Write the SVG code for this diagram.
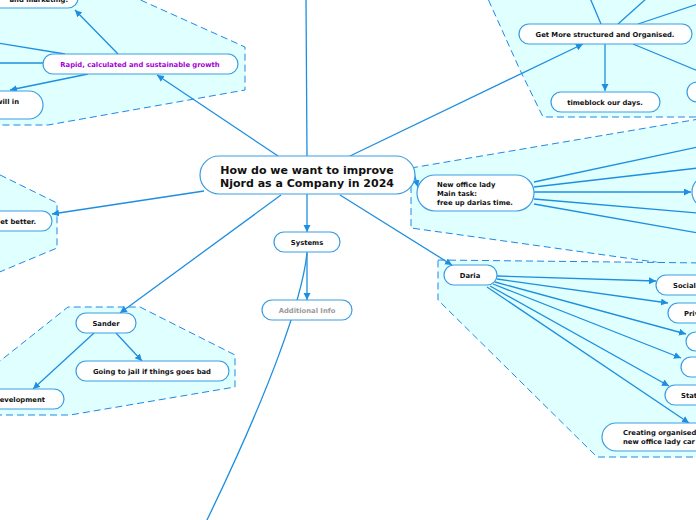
<svg xmlns="http://www.w3.org/2000/svg" width="696" height="520" viewBox="0 0 696 520">
<defs>
<style>
.grp{fill:#e0ffff;stroke:#1e88e5;stroke-width:1;stroke-dasharray:7,4}
.n{fill:#ffffff;stroke:#3a9de3;stroke-width:1.2}
.t{font-family:"DejaVu Sans",Verdana,sans-serif;font-weight:bold;font-size:6.8px;fill:#111}
.c{stroke:#1e8fe0;stroke-width:1.3;fill:none}
.a{marker-end:url(#ah)}
</style>
<marker id="ah" markerWidth="8" markerHeight="8" refX="7" refY="3.5" orient="auto" markerUnits="userSpaceOnUse">
<path d="M0,0 L7,3.5 L0,7 Z" fill="#1e8fe0"/>
</marker>
</defs>
<rect width="696" height="520" fill="#ffffff"/>

<g id="groups">
<polygon class="grp" points="-20,-20 96,-20 245,47 245,90 48,125 -20,125"/>
<path class="grp" d="M484,-10 L520,70 L543,117 L705,117 L705,-10 Z"/>
<polygon class="grp" points="411,168 705,118 705,269 411,228"/>
<polygon class="grp" points="438,260 705,263 705,457 597,457 438,300"/>
<polygon class="grp" points="-10,170 57,203 57,248 -10,276"/>
<polygon class="grp" points="-5,365 68,307 140,307 235,355 235,387 70,415 -5,415"/>
</g>

<g id="connectors">
<line class="c" x1="307" y1="156" x2="306" y2="-2"/>
<line class="c a" x1="278" y1="156" x2="157" y2="75"/>
<line class="c a" x1="118" y1="54" x2="75" y2="10"/>
<line class="c" x1="65" y1="54" x2="-2" y2="43"/>
<line class="c" x1="43" y1="63" x2="-2" y2="63"/>
<line class="c a" x1="88" y1="74" x2="10" y2="90"/>
<line class="c a" x1="350" y1="156" x2="583" y2="44"/>
<line class="c" x1="601" y1="24" x2="590" y2="-2"/>
<line class="c" x1="618" y1="24" x2="647" y2="-2"/>
<line class="c" x1="638" y1="24" x2="698" y2="4"/>
<line class="c" x1="633" y1="44" x2="698" y2="71"/>
<line class="c a" x1="605" y1="44" x2="605" y2="91"/>
<line class="c a" x1="413" y1="170" x2="418" y2="187"/>
<line class="c" x1="534" y1="182" x2="698" y2="147"/>
<line class="c" x1="534" y1="187" x2="698" y2="168"/>
<line class="c a" x1="534" y1="192" x2="691" y2="192"/>
<line class="c" x1="534" y1="199" x2="698" y2="213"/>
<line class="c" x1="534" y1="204" x2="698" y2="233"/>
<line class="c a" x1="340" y1="195" x2="452" y2="265"/>
<line class="c a" x1="497" y1="276" x2="656" y2="281"/>
<line class="c a" x1="497" y1="279" x2="668" y2="303"/>
<line class="c a" x1="495" y1="282" x2="686" y2="334"/>
<line class="c a" x1="493" y1="284" x2="681" y2="358"/>
<line class="c a" x1="490" y1="286" x2="669" y2="386"/>
<line class="c a" x1="487" y1="287" x2="689" y2="423"/>
<line class="c a" x1="204" y1="191" x2="52" y2="214"/>
<line class="c a" x1="281" y1="195" x2="120" y2="313"/>
<line class="c a" x1="116" y1="333" x2="142" y2="361"/>
<line class="c a" x1="94" y1="333" x2="33" y2="389"/>
<line class="c a" x1="307" y1="194" x2="307" y2="232"/>
<line class="c a" x1="307" y1="252" x2="307" y2="300"/>
<path class="c" d="M307,253 C302,300 270,390 206,522"/>
</g>

<g id="center">
<rect class="n" x="200" y="156" width="215" height="38" rx="19"/>
<text x="307" y="174" text-anchor="middle" font-family="DejaVu Sans,Verdana,sans-serif" font-weight="bold" font-size="11" fill="#111">How do we want to improve</text>
<text x="307" y="187" text-anchor="middle" font-family="DejaVu Sans,Verdana,sans-serif" font-weight="bold" font-size="11" fill="#111">Njord as a Company in 2024</text>
</g>

<g id="marketing">
<rect class="n" x="-60" y="-12" width="138" height="20" rx="10"/>
<text class="t" x="68" y="2" text-anchor="end">and marketing.</text>
</g>
<g id="rapid">
<rect class="n" x="43" y="54" width="195" height="20" rx="10"/>
<text class="t" x="140" y="67" text-anchor="middle" style="fill:#a500d8">Rapid, calculated and sustainable growth</text>
</g>
<g id="willin">
<rect class="n" x="-80" y="91" width="123" height="28" rx="14"/>
<text class="t" x="19" y="104" text-anchor="end">will in</text>
</g>

<g id="structured">
<rect class="n" x="519" y="24" width="173" height="20" rx="10"/>
<text class="t" x="605" y="37" text-anchor="middle">Get More structured and Organised.</text>
</g>
<g id="timeblock">
<rect class="n" x="551" y="92" width="109" height="20" rx="10"/>
<text class="t" x="605" y="105" text-anchor="middle">timeblock our days.</text>
</g>
<g id="right-partial-1">
<rect class="n" x="687" y="82" width="40" height="20" rx="10"/>
</g>

<g id="officelady">
<rect class="n" x="417" y="175" width="117" height="36" rx="18"/>
<text class="t" x="437" y="187">New office lady</text>
<text class="t" x="437" y="196">Main task:</text>
<text class="t" x="437" y="205">free up darias time.</text>
</g>
<g id="right-partial-2">
<rect class="n" x="692" y="176" width="40" height="32" rx="16"/>
</g>

<g id="daria">
<rect class="n" x="444" y="265" width="53" height="20" rx="10"/>
<text class="t" x="470" y="278" text-anchor="middle">Daria</text>
</g>
<g id="social">
<rect class="n" x="656" y="275" width="60" height="20" rx="10"/>
<text class="t" x="673" y="288">Social</text>
</g>
<g id="priv">
<rect class="n" x="668" y="303" width="50" height="20" rx="10"/>
<text class="t" x="684" y="316">Priv</text>
</g>
<g id="daria-c3">
<rect class="n" x="686" y="332" width="30" height="19" rx="9.5"/>
</g>
<g id="daria-c4">
<rect class="n" x="681" y="357" width="30" height="20" rx="10"/>
</g>
<g id="stat">
<rect class="n" x="665" y="385" width="50" height="20" rx="10"/>
<text class="t" x="681" y="398">Stat</text>
</g>
<g id="creating">
<rect class="n" x="602" y="423" width="120" height="28" rx="14"/>
<text class="t" x="623" y="435">Creating organised</text>
<text class="t" x="623" y="444">new office lady car</text>
</g>

<g id="better">
<rect class="n" x="-60" y="211" width="112" height="20" rx="10"/>
<text class="t" x="36" y="224" text-anchor="end">et better.</text>
</g>

<g id="sander">
<rect class="n" x="76" y="313" width="60" height="20" rx="10"/>
<text class="t" x="106" y="326" text-anchor="middle">Sander</text>
</g>
<g id="jail">
<rect class="n" x="76" y="361" width="153" height="20" rx="10"/>
<text class="t" x="152" y="374" text-anchor="middle">Going to jail if things goes bad</text>
</g>
<g id="development">
<rect class="n" x="-60" y="389" width="124" height="20" rx="10"/>
<text class="t" x="45" y="402" text-anchor="end">development</text>
</g>

<g id="systems">
<rect class="n" x="274" y="232" width="66" height="20" rx="10"/>
<text class="t" x="307" y="245" text-anchor="middle">Systems</text>
</g>
<g id="additional">
<rect class="n" x="262" y="300" width="90" height="20" rx="10"/>
<text class="t" x="307" y="313" text-anchor="middle" style="fill:#9a9a9a">Additional Info</text>
</g>
</svg>
